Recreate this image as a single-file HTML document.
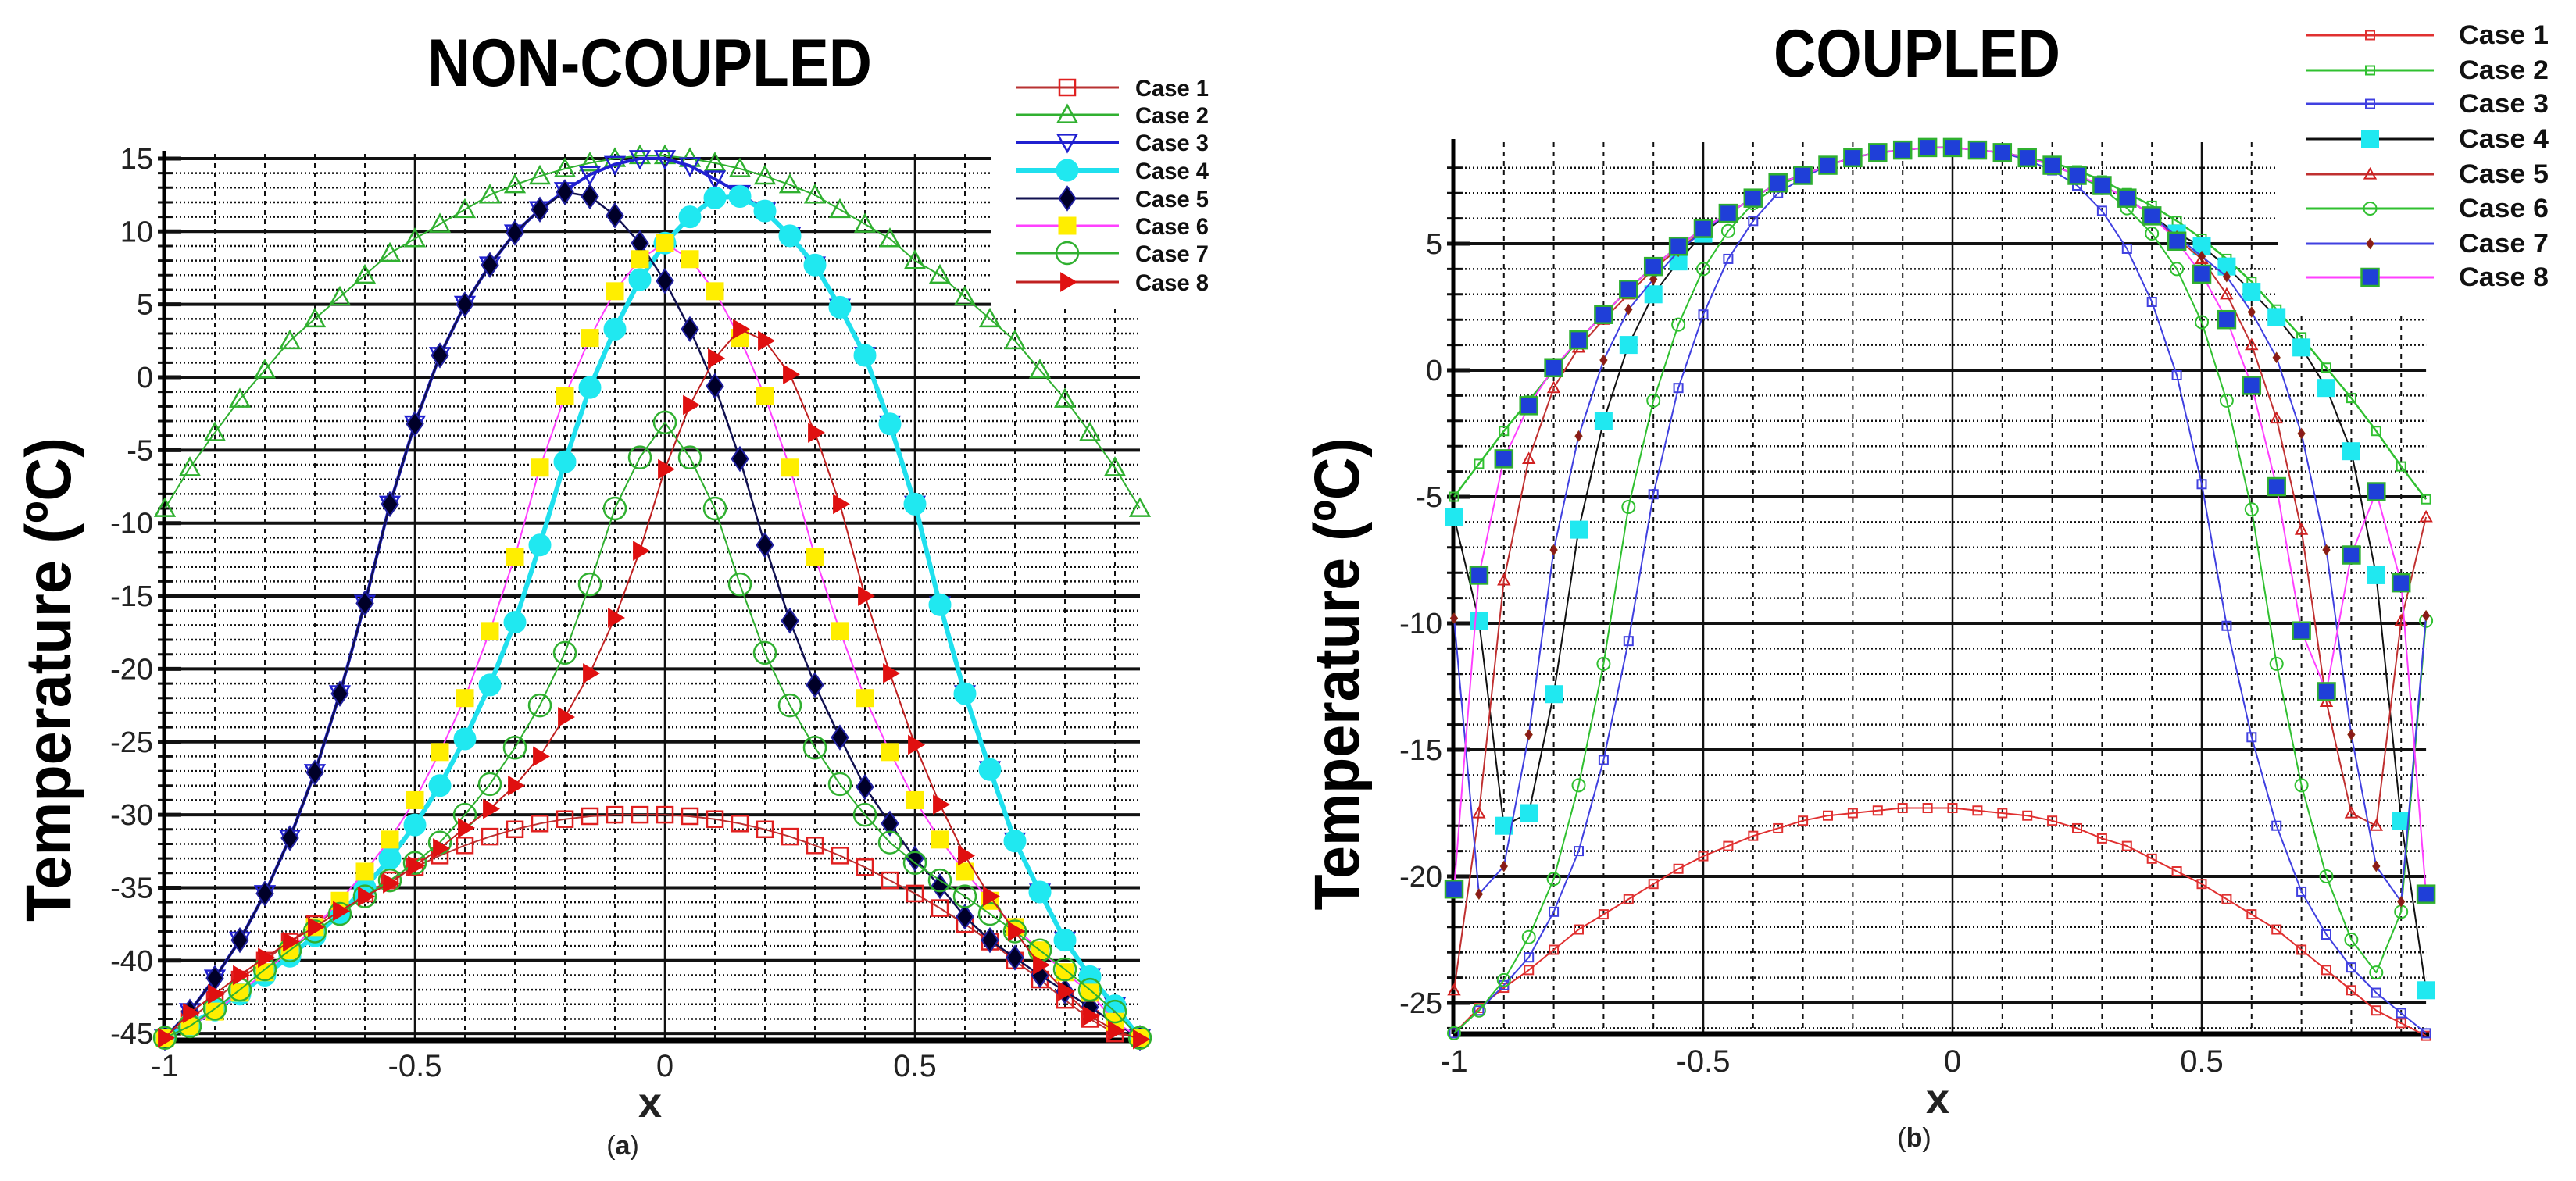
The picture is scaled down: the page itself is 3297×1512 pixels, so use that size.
<!DOCTYPE html>
<html><head><meta charset="utf-8">
<style>
html,body{margin:0;padding:0;background:#fff;}
svg{display:block;font-family:"Liberation Sans",sans-serif;}
</style></head>
<body>
<svg id="fig" width="3297" height="1512" viewBox="0 0 3297 1512" xmlns="http://www.w3.org/2000/svg">
<rect x="0" y="0" width="3297" height="1512" fill="#fff"/>
<g id="left"></g>
<g id="right"></g>
</svg>
<script>
// ---------- data ----------
const xs = [-1,-0.95,-0.9,-0.85,-0.8,-0.75,-0.7,-0.65,-0.6,-0.55,-0.5,-0.45,-0.4,-0.35,-0.3,-0.25,-0.2,-0.15,-0.1,-0.05,0,0.05,0.1,0.15,0.2,0.25,0.3,0.35,0.4,0.45,0.5,0.55,0.6,0.65,0.7,0.75,0.8,0.85,0.9,0.95];
const caseNames = ["Case 1","Case 2","Case 3","Case 4","Case 5","Case 6","Case 7","Case 8"];
const xTicks = [-1,-0.5,0,0.5];
const xTickLabels = ["-1","-0.5","0","0.5"];
const leftYTicks = [15,10,5,0,-5,-10,-15,-20,-25,-30,-35,-40,-45];
const rightYTicks = [5,0,-5,-10,-15,-20,-25];

// NON-COUPLED
const a1 = [-45.3,-44,-42.7,-41.3,-40,-38.7,-37.5,-36.4,-35.4,-34.5,-33.6,-32.8,-32.1,-31.5,-31,-30.6,-30.3,-30.1,-30,-30,-30,-30.1,-30.3,-30.6,-31,-31.5,-32.1,-32.8,-33.6,-34.5,-35.4,-36.4,-37.5,-38.7,-40,-41.3,-42.7,-44,-45,-45.3];
const a2 = [-9,-6.2,-3.8,-1.5,0.5,2.5,4,5.5,7,8.5,9.5,10.5,11.5,12.5,13.2,13.8,14.3,14.7,15,15.2,15.2,15,14.7,14.3,13.8,13.2,12.5,11.5,10.5,9.5,8,7,5.5,4,2.5,0.5,-1.5,-3.8,-6.2,-9];
const a3 = [-45.3,-43.5,-41.2,-38.6,-35.4,-31.6,-27.1,-21.7,-15.5,-8.7,-3.2,1.5,5,7.7,9.9,11.5,12.8,13.9,14.6,15,15,14.5,13.6,12.6,11.4,9.7,7.7,4.8,1.5,-3.2,-8.7,-15.6,-21.7,-26.9,-31.8,-35.3,-38.6,-41.1,-43.1,-45.3];
const a4 = [-45.3,-44.4,-43.4,-42.3,-41,-39.7,-38.3,-36.8,-35,-33,-30.7,-28,-24.8,-21.1,-16.8,-11.5,-5.8,-0.7,3.3,6.7,9.2,11,12.3,12.4,11.4,9.7,7.7,4.8,1.5,-3.2,-8.7,-15.6,-21.7,-26.9,-31.8,-35.3,-38.6,-41.1,-43.1,-45.3];
const a5 = [-45.3,-43.5,-41.2,-38.6,-35.4,-31.6,-27.1,-21.7,-15.5,-8.7,-3.2,1.5,5,7.7,9.9,11.5,12.7,12.4,11.1,9.2,6.6,3.3,-0.6,-5.6,-11.5,-16.7,-21.1,-24.7,-28.1,-30.6,-33,-34.9,-37,-38.6,-39.8,-41,-42.1,-43.2,-44.3,-45.3];
const a6 = [-45.3,-44.5,-43.5,-42.2,-40.8,-39.3,-37.7,-35.9,-33.9,-31.7,-29,-25.7,-22,-17.4,-12.3,-6.2,-1.3,2.7,5.9,8.1,9.2,8.1,5.9,2.7,-1.3,-6.2,-12.3,-17.4,-22,-25.7,-29,-31.7,-33.9,-35.9,-37.7,-39.3,-40.8,-42.2,-44.2,-45.3];
const a7 = [-45.3,-44.5,-43.3,-42,-40.6,-39.3,-38,-36.8,-35.6,-34.5,-33.3,-31.9,-30,-27.9,-25.4,-22.5,-18.9,-14.2,-9,-5.5,-3.1,-5.5,-9,-14.2,-18.9,-22.5,-25.4,-27.9,-30,-31.9,-33.3,-34.5,-35.6,-36.8,-38,-39.3,-40.6,-42,-43.5,-45.3];
const a8 = [-45.3,-43.6,-42.3,-41,-39.8,-38.7,-37.7,-36.6,-35.6,-34.7,-33.5,-32.3,-30.9,-29.6,-28,-26,-23.3,-20.3,-16.5,-11.9,-6.3,-1.9,1.3,3.3,2.5,0.2,-3.8,-8.7,-15,-20.3,-25.2,-29.3,-32.8,-35.6,-38,-40.3,-42.1,-43.8,-44.8,-45.4];

// COUPLED
const b1 = [-26.2,-25.2,-24.4,-23.7,-22.9,-22.1,-21.5,-20.9,-20.3,-19.7,-19.2,-18.8,-18.4,-18.1,-17.8,-17.6,-17.5,-17.4,-17.3,-17.3,-17.3,-17.4,-17.5,-17.6,-17.8,-18.1,-18.5,-18.8,-19.3,-19.8,-20.3,-20.9,-21.5,-22.1,-22.9,-23.7,-24.5,-25.3,-25.8,-26.3];
const b2 = [-5,-3.7,-2.4,-1.2,0,1.2,2.2,3.2,4.1,4.9,5.6,6.2,6.8,7.4,7.7,8.1,8.4,8.6,8.7,8.8,8.8,8.7,8.6,8.4,8.2,7.9,7.5,7,6.5,5.9,5.2,4.4,3.5,2.4,1.3,0.1,-1.1,-2.4,-3.8,-5.1];
const b3 = [-26.2,-25.3,-24.3,-23.2,-21.4,-19,-15.4,-10.7,-4.9,-0.7,2.2,4.4,5.9,7,7.6,8.1,8.4,8.6,8.7,8.8,8.8,8.7,8.6,8.3,7.9,7.3,6.3,4.8,2.7,-0.2,-4.5,-10.1,-14.5,-18,-20.6,-22.3,-23.6,-24.6,-25.4,-26.2];
const b4 = [-5.8,-9.9,-18,-17.5,-12.8,-6.3,-2,1,3,4.3,5.4,6.2,6.8,7.4,7.7,8.1,8.4,8.6,8.7,8.8,8.8,8.7,8.6,8.4,8.1,7.7,7.3,6.8,6.1,5.4,4.9,4.1,3.1,2.1,0.9,-0.7,-3.2,-8.1,-17.8,-24.5];
const b5 = [-24.5,-17.5,-8.3,-3.5,-0.7,0.9,2,3,4,4.8,5.5,6.2,6.8,7.4,7.7,8.1,8.4,8.6,8.7,8.8,8.8,8.7,8.6,8.4,8.1,7.7,7.3,6.8,6.1,5.2,4.4,3,1,-1.9,-6.3,-13.1,-17.5,-18,-9.9,-5.8];
const b6 = [-26.2,-25.3,-24.1,-22.4,-20.1,-16.4,-11.6,-5.4,-1.2,1.8,4,5.5,6.6,7.3,7.7,8.1,8.4,8.6,8.7,8.8,8.8,8.7,8.6,8.4,8.1,7.7,7.2,6.4,5.4,4,1.9,-1.2,-5.5,-11.6,-16.4,-20,-22.5,-23.8,-21.4,-9.9];
const b7 = [-9.8,-20.7,-19.6,-14.4,-7.1,-2.6,0.4,2.4,3.6,4.7,5.5,6.2,6.8,7.4,7.7,8.1,8.4,8.6,8.7,8.8,8.8,8.7,8.6,8.4,8.1,7.7,7.3,6.8,6.1,5.3,4.5,3.7,2.3,0.5,-2.5,-7.1,-14.4,-19.6,-21,-9.7];
const b8 = [-20.5,-8.1,-3.5,-1.4,0.1,1.2,2.2,3.2,4.1,4.9,5.6,6.2,6.8,7.4,7.7,8.1,8.4,8.6,8.7,8.8,8.8,8.7,8.6,8.4,8.1,7.7,7.3,6.8,6.1,5.1,3.8,2,-0.6,-4.6,-10.3,-12.7,-7.3,-4.8,-8.4,-20.7];

const leftSeries = [a1,a2,a3,a4,a5,a6,a7,a8];
const rightSeries = [b1,b2,b3,b4,b5,b6,b7,b8];

// ---------- styles ----------
const leftStyles = [
 {line:"#b83232",lw:2,m:"square",s:20,fill:"none",stroke:"#e02020",sw:2.5},
 {line:"#30b030",lw:2,m:"tri",s:24,fill:"none",stroke:"#30b030",sw:2.5},
 {line:"#2020d0",lw:4,m:"dtri",s:24,fill:"none",stroke:"#2020d0",sw:2.5},
 {line:"#20e0ee",lw:6,m:"circle",s:28,fill:"#20e8f0",stroke:"#20e8f0",sw:1},
 {line:"#101050",lw:2.5,m:"diamond",s:30,fill:"#000028",stroke:"#2020a0",sw:2},
 {line:"#ff40ff",lw:2,m:"square",s:22,fill:"#ffee00",stroke:"#ffee00",sw:1},
 {line:"#30b030",lw:2,m:"circle",s:28,fill:"none",stroke:"#30b030",sw:2.5},
 {line:"#c02020",lw:2,m:"rtri",s:24,fill:"#e01010",stroke:"#e01010",sw:1}
];
const rightStyles = [
 {line:"#e03030",lw:2,m:"square",s:11,fill:"none",stroke:"#e03030",sw:2},
 {line:"#30c030",lw:2.5,m:"square",s:11,fill:"none",stroke:"#30c030",sw:2},
 {line:"#4040e0",lw:2,m:"square",s:11,fill:"none",stroke:"#4040e0",sw:2},
 {line:"#101010",lw:2,m:"square",s:22,fill:"#20e8f0",stroke:"#20e8f0",sw:1},
 {line:"#c03030",lw:2,m:"tri",s:14,fill:"none",stroke:"#d02020",sw:2},
 {line:"#30c030",lw:2,m:"circle",s:16,fill:"none",stroke:"#30c030",sw:2},
 {line:"#4040e0",lw:2,m:"diamond",s:13,fill:"#8b1a1a",stroke:"#8b3010",sw:1},
 {line:"#ff40ff",lw:2,m:"square",s:22,fill:"#1f3fd8",stroke:"#30b030",sw:2.5}
];

const NS = "http://www.w3.org/2000/svg";
function mk(tag, attrs, parent){
  const e = document.createElementNS(NS, tag);
  for (const k in attrs) e.setAttribute(k, attrs[k]);
  parent.appendChild(e);
  return e;
}
function marker(g, st, cx, cy){
  const s = st.s, h = s/2;
  let e;
  const base = {fill:st.fill, stroke:st.stroke, "stroke-width":st.sw};
  if (st.m === "square") e = mk("rect", Object.assign({x:cx-h, y:cy-h, width:s, height:s}, base), g);
  else if (st.m === "circle") e = mk("circle", Object.assign({cx:cx, cy:cy, r:h}, base), g);
  else if (st.m === "tri") e = mk("polygon", Object.assign({points:`${cx},${cy-h} ${cx-h},${cy+h*0.8} ${cx+h},${cy+h*0.8}`}, base), g);
  else if (st.m === "dtri") e = mk("polygon", Object.assign({points:`${cx},${cy+h} ${cx-h},${cy-h*0.8} ${cx+h},${cy-h*0.8}`}, base), g);
  else if (st.m === "rtri") e = mk("polygon", Object.assign({points:`${cx+h},${cy} ${cx-h*0.7},${cy-h} ${cx-h*0.7},${cy+h}`}, base), g);
  else e = mk("polygon", Object.assign({points:`${cx},${cy-h} ${cx+h*0.7},${cy} ${cx},${cy+h} ${cx-h*0.7},${cy}`}, base), g);
  
  
  return e;
}

function drawPanel(P){
  const g = document.getElementById(P.id);
  const px = x => P.x0 + x * P.xs;
  const py = y => P.y0 - y * P.ys;
  const xR = px(0.95), yTop = P.top, yBot = P.bot;
  const grid = mk("g", {}, g);
  
  
  // minor horizontal dotted
  for (let v = P.ymax; v >= P.ymin; v -= 1){
    const y = py(v);
    if (y < yTop - 1 || y > yBot) continue;
    const major = Math.abs(v % 5) < 1e-9;
    let x2 = xR;
    if (y < P.legBottom) x2 = P.legLeft;
    const ln = mk("line", {x1:P.axX, x2:x2, y1:y, y2:y, stroke:"#111", "stroke-width": major ? 4 : 2.5, "stroke-dasharray": major ? "" : "2 3"}, grid);
    
    
    const tk = mk("line", {x1:P.axX-8, x2:P.axX + (major?22:12), y1:y, y2:y, stroke:"#111", "stroke-width": major?5:3}, grid);
    
    
  }
  // vertical
  for (let i = 1; i <= 19; i++){
    const xv = -1 + i * 0.1;
    const x = px(xv);
    const major = (i % 5 === 0);
    let y1 = yTop - 6;
    if (x > P.legLeft) y1 = P.legBottom;
    const ln = mk("line", {x1:x, x2:x, y1:y1, y2:yBot, stroke:"#111", "stroke-width": major ? 2.5 : 2, "stroke-dasharray": major ? "" : "6 6"}, grid);
    
    
  }
  // axes
  const ax = mk("line", {x1:P.axX, x2:P.axX, y1:yTop-10, y2:yBot, stroke:"#000", "stroke-width":5}, g);
  
  
  const bx = mk("line", {x1:P.axX, x2:xR+4, y1:yBot, y2:yBot, stroke:"#000", "stroke-width":7}, g);
  
  
  // y tick labels
  P.yTicks.forEach(v => {
    const t = mk("text", {x:P.axX-14, y:py(v)+13, "text-anchor":"end", "font-size":38, fill:"#222"}, g);
    t.textContent = String(v);
    
    
  });
  // x tick labels
  xTicks.forEach((v, i) => {
    const t = mk("text", {x:px(v), y:P.xLabY, "text-anchor":"middle", "font-size":40, fill:"#222"}, g);
    t.textContent = xTickLabels[i];
    
    
  });
  // series
  P.series.forEach((data, si) => {
    const st = P.styles[si];
    const sg = mk("g", {}, g);
    
    
    const pts = data.map((v, i) => px(xs[i]).toFixed(1) + "," + py(v).toFixed(1)).join(" ");
    const pl = mk("polyline", {points:pts, fill:"none", stroke:st.line, "stroke-width":st.lw, "stroke-linejoin":"round"}, sg);
    
    
    data.forEach((v, i) => marker(sg, st, px(xs[i]), py(v)));
  });
  // legend
  const lg = mk("g", {}, g);
  
  
  caseNames.forEach((nm, i) => {
    const st = P.styles[i];
    const y = P.legY[i];
    const eg = mk("g", {}, lg);
    
    
    mk("line", {x1:P.legL1, x2:P.legL2, y1:y, y2:y, stroke:st.line, "stroke-width":Math.max(st.lw,3)}, eg);
    marker(eg, st, (P.legL1+P.legL2)/2, y);
    const t = mk("text", {x:P.legTX, y:y+11, "font-size":P.legFS, "font-weight":"bold", fill:"#111", textLength:P.legTW, lengthAdjust:"spacingAndGlyphs"}, eg);
    t.textContent = nm;
  });
  // title
  const tt = mk("text", {x:P.titleX, y:P.titleY, "font-size":86, "font-weight":"bold", fill:"#000", textLength:P.titleW, lengthAdjust:"spacingAndGlyphs"}, g);
  tt.textContent = P.title;
  
  
  // y label
  const yl = mk("text", {x:0, y:0, "font-size":82, "font-weight":"bold", fill:"#000", "text-anchor":"middle", textLength:P.ylW, lengthAdjust:"spacingAndGlyphs", transform:`translate(${P.ylX},${P.ylY}) rotate(-90)`}, g);
  yl.textContent = "Temperature  (ºC)";
  
  
  const xl = mk("text", {x:P.xlX, y:P.xlY, "font-size":54, "font-weight":"bold", fill:"#222", "text-anchor":"middle"}, g);
  xl.textContent = "x";
  
  
  const cap = mk("text", {x:P.capX, y:P.capY, "font-size":34, fill:"#222", "text-anchor":"middle"}, g);
  cap.innerHTML = '(<tspan font-weight="bold">' + P.cap + '</tspan>)';
  
  
}

drawPanel({id:"left", x0:851, xs:640, y0:483, ys:18.67, top:203, bot:1332, axX:210,
  ymax:15, ymin:-45, yTicks:leftYTicks, xLabY:1378, series:leftSeries, styles:leftStyles,
  legLeft:1268, legBottom:395, legY:[112,147,182,218,254,289,324,361], legL1:1300, legL2:1432, legTX:1453, legTW:94, legFS:30,
  title:"NON-COUPLED", titleX:547, titleY:110, titleW:569, ylX:90, ylY:870, ylW:620, xlX:832, xlY:1430, capX:797, capY:1478, cap:"a"});
drawPanel({id:"right", x0:2499, xs:638, y0:474, ys:32.4, top:188, bot:1324, axX:1860,
  ymax:8, ymin:-26, yTicks:rightYTicks, xLabY:1372, series:rightSeries, styles:rightStyles,
  legLeft:2916, legBottom:405, legY:[45,90,133,178,223,267,312,355], legL1:2952, legL2:3115, legTX:3147, legTW:115, legFS:34,
  title:"COUPLED", titleX:2270, titleY:98, titleW:367, ylX:1739, ylY:863, ylW:605, xlX:2480, xlY:1425, capX:2450, capY:1468, cap:"b"});
</script>
</body></html>
